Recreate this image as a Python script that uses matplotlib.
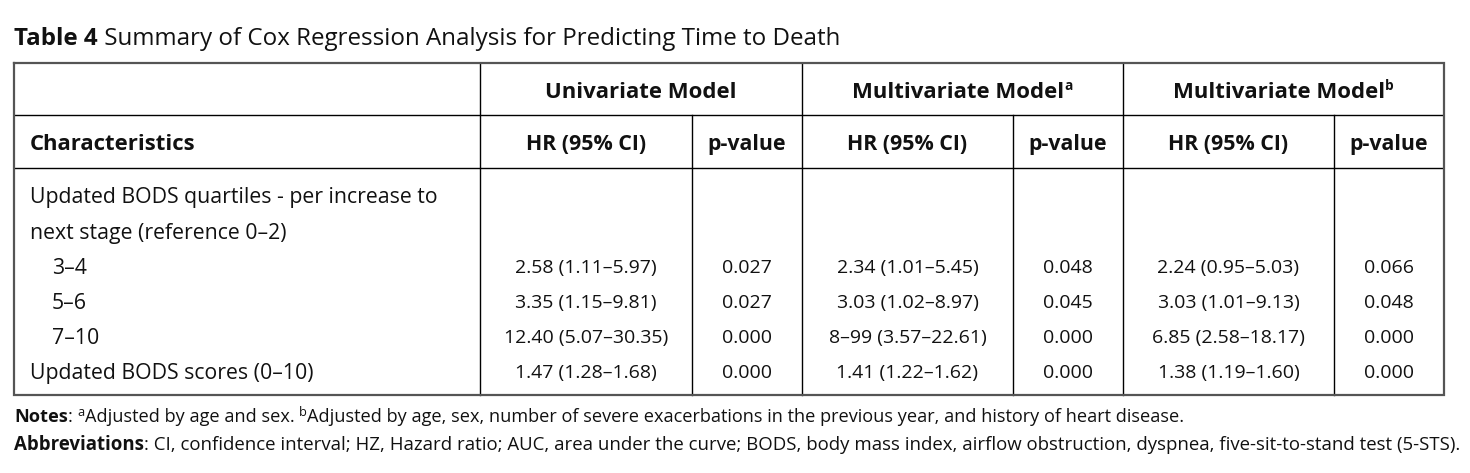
import matplotlib
matplotlib.use("Agg")
import matplotlib.pyplot as plt

plt.rcParams['font.family'] = ['Open Sans', 'DejaVu Sans']

# ---- data ----
title_bold = "Table 4"
title_rest = " Summary of Cox Regression Analysis for Predicting Time to Death"
group_headers = ["Univariate Model", "Multivariate Model", "Multivariate Model"]
group_sups = ["", "a", "b"]
sub_headers = ["HR (95% CI)", "p-value"]
first_col_header = "Characteristics"

row_labels = ["Updated BODS quartiles - per increase to",
              "next stage (reference 0–2)",
              "3–4", "5–6", "7–10",
              "Updated BODS scores (0–10)"]
row_indent = [False, False, True, True, True, False]

hr_uni = ["", "", "2.58 (1.11–5.97)", "3.35 (1.15–9.81)", "12.40 (5.07–30.35)", "1.47 (1.28–1.68)"]
p_uni = ["", "", "0.027", "0.027", "0.000", "0.000"]
hr_multi_a = ["", "", "2.34 (1.01–5.45)", "3.03 (1.02–8.97)", "8–99 (3.57–22.61)", "1.41 (1.22–1.62)"]
p_multi_a = ["", "", "0.048", "0.045", "0.000", "0.000"]
hr_multi_b = ["", "", "2.24 (0.95–5.03)", "3.03 (1.01–9.13)", "6.85 (2.58–18.17)", "1.38 (1.19–1.60)"]
p_multi_b = ["", "", "0.066", "0.048", "0.000", "0.000"]

notes_a = "Adjusted by age and sex. "
notes_b = "Adjusted by age, sex, number of severe exacerbations in the previous year, and history of heart disease."
abbrev = ": CI, confidence interval; HZ, Hazard ratio; AUC, area under the curve; BODS, body mass index, airflow obstruction, dyspnea, five-sit-to-stand test (5-STS)."

# ---- layout ----
W, H = 1470, 473
fig = plt.figure(figsize=(W / 100, H / 100), dpi=100)
ax = fig.add_axes([0, 0, 1, 1])
ax.set_xlim(0, W)
ax.set_ylim(H, 0)
ax.axis('off')

x_left, x_right = 14, 1444
y_top, y_h1, y_h2, y_bot = 63, 115, 168, 395
col_x = [480, 692, 802, 1013, 1123, 1334]
FSL = 15.3     # label column
FS = 14.0      # numbers
FSB = 15.9     # bold headers
TXT = '#111111'
DY = 2         # small vertical nudge for text

fig.canvas.draw()
renderer = fig.canvas.get_renderer()


def seq_text(x, y, segments):
    """segments: list of (text, size, weight, dy)"""
    cx = x
    for s, size, weight, dy in segments:
        t = ax.text(cx, y + dy, s, fontsize=size, fontweight=weight, color=TXT,
                    ha='left', va='center')
        bb = t.get_window_extent(renderer=renderer)
        cx += bb.width  # 1 data unit = 1 px
    return cx


def center_with_sup(xc, y, s, sup, size, weight):
    t = ax.text(0, 0, s, fontsize=size, fontweight=weight)
    w = t.get_window_extent(renderer=renderer).width
    t.remove()
    ws = 0
    if sup:
        t2 = ax.text(0, 0, sup, fontsize=size * 0.62, fontweight=weight)
        ws = t2.get_window_extent(renderer=renderer).width
        t2.remove()
    x0 = xc - (w + ws) / 2
    segs = [(s, size, weight, 0)]
    if sup:
        segs.append((sup, size * 0.62, weight, -6))
    seq_text(x0, y, segs)


# title
seq_text(14, 37 + DY, [(title_bold, 17.4, 'bold', 0), (title_rest, 17.4, 'normal', 0)])

# grid lines
lw = 1.0
for yy in [y_h1, y_h2]:
    ax.plot([x_left, x_right], [yy, yy], color='black', lw=lw, solid_capstyle='butt')
ax.plot([col_x[0], col_x[0]], [y_top, y_bot], color='black', lw=lw)
for xx in [col_x[2], col_x[4]]:
    ax.plot([xx, xx], [y_top, y_bot], color='black', lw=lw)
for xx in [col_x[1], col_x[3], col_x[5]]:
    ax.plot([xx, xx], [y_h1, y_bot], color='black', lw=lw)
ax.plot([x_left, x_right, x_right, x_left, x_left],
        [y_top, y_top, y_bot, y_bot, y_top], color='#555555', lw=1.6,
        solid_joinstyle='miter')

# headers
y_g, y_s = 90 + DY, 142 + DY
group_spans = [(col_x[0], col_x[2]), (col_x[2], col_x[4]), (col_x[4], x_right)]
for (a, b), g, sp in zip(group_spans, group_headers, group_sups):
    center_with_sup((a + b) / 2, y_g, g, sp, FSB, 'bold')
ax.text(30, y_s, first_col_header, fontsize=FSB, fontweight='bold', color=TXT,
        ha='left', va='center')
bounds = [col_x[0], col_x[1], col_x[2], col_x[3], col_x[4], col_x[5], x_right]
for i in range(6):
    xc = (bounds[i] + bounds[i + 1]) / 2
    ax.text(xc, y_s, sub_headers[i % 2], fontsize=FSB * 0.97, fontweight='bold',
            color=TXT, ha='center', va='center')

# body
row_y = [195, 231, 266, 301, 336, 371]
cols = [hr_uni, p_uni, hr_multi_a, p_multi_a, hr_multi_b, p_multi_b]
for r, y in enumerate(row_y):
    y = y + DY
    ax.text(52 if row_indent[r] else 30, y, row_labels[r], fontsize=FSL,
            color=TXT, ha='left', va='center')
    for i, col in enumerate(cols):
        xc = (bounds[i] + bounds[i + 1]) / 2
        ax.text(xc, y, col[r], fontsize=FS, color=TXT, ha='center', va='center')

# notes
NFS = 13.1
seq_text(14, 415 + DY, [("Notes", NFS, 'bold', 0), (": ", NFS, 'normal', 0),
                        ("a", NFS * 0.7, 'normal', -5), (notes_a, NFS, 'normal', 0),
                        ("b", NFS * 0.7, 'normal', -5), (notes_b, NFS, 'normal', 0)])
seq_text(14, 443 + DY, [("Abbreviations", 13.4, 'bold', 0), (abbrev, 13.4, 'normal', 0)])

fig.savefig("out.png", dpi=100)
